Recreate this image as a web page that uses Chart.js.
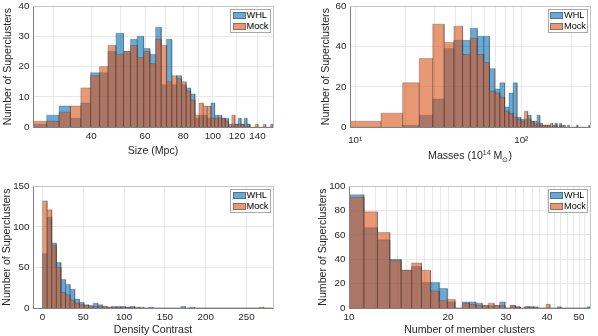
<!DOCTYPE html>
<html lang="en">
<head>
  <meta charset="UTF-8">
  <title>Supercluster histograms: WHL vs Mock</title>
  <script src="https://cdn.jsdelivr.net/npm/chart.js"></script>
  <style>
    body {
      margin: 0;
      background: #fff;
      font-family: "Liberation Sans", Arial, Helvetica, sans-serif;
    }
    #fig {
      position: relative;
      width: 598px;
      height: 336px;
      overflow: hidden;
    }
    #fig canvas {
      position: absolute;
    }
    .legend {
      position: absolute;
      width: 40.5px;
      height: 23.5px;
      box-sizing: border-box;
      background: #fff;
      border: 1px solid #a8a8a8;
      font-size: 9.2px;
      color: #000;
    }
    .legend .row {
      position: absolute;
      left: 0;
      height: 11px;
      line-height: 11px;
      white-space: nowrap;
    }
    .legend .sw {
      position: absolute;
      left: 1.5px;
      top: 2px;
      width: 13px;
      height: 7px;
      box-sizing: border-box;
      border: 1px solid rgba(50, 50, 50, 0.45);
    }
    .legend .lbl {
      position: absolute;
      left: 15.5px;
      top: 0;
    }
    .xlab {
      position: absolute;
      text-align: center;
      font-size: 10.6px;
      line-height: 13px;
      color: #262626;
      white-space: nowrap;
    }
    .xlab sup, .xlab sub {
      font-size: 7px;
      vertical-align: baseline;
      position: relative;
    }
    .xlab sup { top: -4px; }
    .xlab sub { top: 2.5px; }
  </style>
</head>
<body>
  <div id="fig">
    <canvas id="sizeChart" width="299" height="168" style="left:0;top:0"></canvas>
    <canvas id="massChart" width="299" height="168" style="left:299px;top:0"></canvas>
    <canvas id="densChart" width="299" height="168" style="left:0;top:168px"></canvas>
    <canvas id="membChart" width="299" height="168" style="left:299px;top:168px"></canvas>
    <div class="xlab" style="left:350px;top:149px;width:240px">Masses (10<sup>14</sup> M<sub>&#8857;</sub>)</div>
  </div>

  <script>
    const FONT = '"Liberation Sans", Arial, Helvetica, sans-serif';
    const TEXT = '#262626';
    const GRID = '#e8e8e8';
    const AXIS = '#808080';
    const BOX = '#c4c4c4';
    const WHL_COLOR = 'rgba(0, 114, 189, 0.6)';
    const MOCK_COLOR = 'rgba(217, 83, 25, 0.6)';
    const EDGE = 'rgba(50, 50, 50, 0.4)';
    const seriesNames = ['WHL', 'Mock'];

    // Size (Mpc): 47 bins of 2.8 Mpc starting at 25.8
    const sizeStart = 25.8, sizeWidth = 2.8;
    const sizeWHL = [1, 4, 7, 3, 8, 18, 18, 25, 31, 25, 29, 30, 26, 24, 33, 14, 29, 14, 17, 14,
      13, 11, 3, 4, 4, 3, 8, 4, 4, 3, 3, 1, 1, 1, 3, 1, 3, 1, 0, 0, 0, 0, 0, 0, 0, 0, 1];
    const sizeMock = [2, 2, 5, 7, 13, 17, 20, 27, 24, 25, 27, 23, 25, 21, 29, 27, 15, 17, 16, 15,
      12, 9, 4, 8, 7, 7, 3, 3, 3, 3, 2, 0, 4, 1, 1, 1, 0, 1, 0, 0, 1, 0, 0, 1, 0, 0, 0];
    const sizeGrid = [30, 40, 50, 60, 70, 80, 90, 100, 120, 140];
    const sizeLabels = [40, 60, 80, 100, 120, 140];

    // Masses (10^14 Msun): 50 bins of 5 starting at 9.3
    const massStart = 9.3, massWidth = 5;
    const massWHL = [0, 0, 1, 6, 14, 39, 43, 43, 49, 45, 45, 29, 19, 22, 10, 17, 22, 5, 4, 4,
      6, 3, 3, 6, 2, 1, 1, 1, 0, 1, 2, 0, 1, 1, 1, 0, 0, 0, 0, 0, 0, 1, 0, 0, 0, 0, 0, 0, 0, 1];
    const massMock = [3, 7, 22, 34, 51, 42, 50, 36, 44, 36, 32, 18, 17, 15, 8, 7, 5, 4, 3, 8,
      4, 3, 1, 2, 1, 1, 1, 1, 2, 0, 1, 0, 2, 0, 0, 0, 1, 0, 0, 0, 0, 0, 0, 0, 0, 0, 0, 0, 0, 0];
    const massGrid = [10, 20, 30, 40, 50, 60, 70, 80, 90, 100, 200];
    const massLabels = { 10: '10\u00b9', 100: '10\u00b2' };

    // Density contrast: 50 bins of 5.65 starting at 0
    const densStart = 0, densWidth = 5.65;
    const densWHL = [67, 112, 80, 56, 35, 29, 23, 11, 7, 4, 3, 6, 4, 2, 1, 2, 2, 2, 1, 2,
      1, 0, 0, 1, 0, 0, 0, 0, 0, 0, 2, 0, 1, 0, 0, 0, 0, 0, 0, 0, 0, 0, 0, 0, 0, 0, 0, 0, 0, 0];
    const densMock = [132, 121, 77, 50, 19, 16, 10, 6, 4, 3, 2, 2, 2, 2, 1, 1, 1, 1, 1, 1,
      0, 1, 0, 0, 0, 0, 0, 0, 0, 0, 0, 0, 0, 0, 0, 0, 0, 0, 0, 0, 0, 0, 0, 0, 0, 0, 0, 1, 0, 0];
    const densGrid = [0, 50, 100, 150, 200, 250];

    // Number of member clusters: 40 bins of 1.1 starting at 10
    const membStart = 10, membWidth = 1.1;
    const membWHL = [93, 66, 56, 40, 31, 34, 21, 21, 16, 5, 0, 5, 5, 4, 2, 2, 2, 5, 0, 2,
      1, 0, 1, 1, 1, 0, 0, 0, 0, 0, 1, 0, 0, 0, 0, 0, 0, 0, 0, 1];
    const membMock = [91, 79, 62, 39, 31, 37, 31, 14, 6, 7, 0, 4, 3, 2, 2, 4, 2, 2, 0, 2,
      1, 0, 1, 1, 0, 0, 0, 3, 0, 0, 0, 0, 0, 0, 0, 0, 0, 0, 0, 0];
    const membGrid = [10, 11, 12, 13, 14, 15, 16, 17, 18, 19, 20, 22, 24, 26, 28, 30, 32, 34, 36, 38,
      40, 42, 44, 46, 48, 50, 52];
    const membLabels = [10, 20, 30, 40, 50];

    // histogram outline: each bin goes up, across and back down to zero
    function outline(start, width, counts) {
      const pts = [];
      counts.forEach((c, i) => {
        const l = start + i * width, r = start + (i + 1) * width;
        pts.push({x: l, y: 0}, {x: l, y: c}, {x: r, y: c}, {x: r, y: 0});
      });
      return pts;
    }

    function series(label, pts, color, order) {
      return {
        label: label,
        data: pts,
        showLine: true,
        fill: 'origin',
        backgroundColor: color,
        borderColor: EDGE,
        borderWidth: 0.7,
        pointRadius: 0,
        tension: 0,
        order: order
      };
    }

    function makePanel(p) {
      const tickFont = {family: FONT, size: 9.8, lineHeight: 1.2};
      const titleFont = {family: FONT, size: 10.6, lineHeight: 1.2};
      return new Chart(document.getElementById(p.id), {
        type: 'scatter',
        data: {
          datasets: [
            series(seriesNames[0], outline(p.start, p.width, p.whl), WHL_COLOR, 2),
            series(seriesNames[1], outline(p.start, p.width, p.mock), MOCK_COLOR, 1)
          ]
        },
        options: {
          responsive: false,
          animation: false,
          devicePixelRatio: 1,
          layout: {padding: {top: p.padTop, right: p.padRight, left: 0, bottom: 0}},
          plugins: {legend: {display: false}, tooltip: {enabled: false}},
          scales: {
            x: {
              type: p.log ? 'logarithmic' : 'linear',
              min: p.xMin,
              max: p.xMax,
              bounds: 'data',
              afterBuildTicks: s => { s.ticks = p.grid.map(v => ({value: v})); },
              afterFit: s => { s.height = p.xAxisH; s.paddingLeft = 0; s.paddingRight = 0; },
              grid: {color: GRID, drawTicks: false},
              border: {color: AXIS, z: 1},
              ticks: {
                autoSkip: false, maxRotation: 0, padding: p.xTickPad,
                font: tickFont, color: TEXT,
                callback: v => p.label(v)
              },
              title: {
                display: !!p.xTitle, text: p.xTitle || '', font: titleFont, color: TEXT,
                padding: {top: 0, bottom: p.xTitlePad}
              }
            },
            y: {
              type: 'linear',
              min: 0,
              max: p.yMax,
              afterFit: s => { s.width = p.yAxisW; s.paddingTop = 0; s.paddingBottom = 0; },
              grid: {color: GRID, drawTicks: false},
              border: {color: AXIS, z: 1},
              ticks: {stepSize: p.yStep, padding: 3.5, font: tickFont, color: TEXT},
              title: {
                display: true, text: 'Number of Superclusters', font: titleFont, color: TEXT,
                padding: {top: p.yTitlePad, bottom: 0}
              }
            },
            xt: {
              type: 'linear', position: 'top',
              ticks: {display: false}, grid: {display: false, drawTicks: false},
              border: {color: BOX, z: 1},
              afterFit: s => { s.height = 0; s.paddingLeft = 0; s.paddingRight = 0; }
            },
            yr: {
              type: 'linear', position: 'right',
              ticks: {display: false}, grid: {display: false, drawTicks: false},
              border: {color: BOX, z: 1},
              afterFit: s => { s.width = 0; s.paddingTop = 0; s.paddingBottom = 0; }
            }
          }
        }
      });
    }

    function addLegend(chart, left, top) {
      const box = document.createElement('div');
      box.className = 'legend';
      box.style.left = left + 'px';
      box.style.top = top + 'px';
      chart.data.datasets.forEach((ds, i) => {
        const row = document.createElement('div');
        row.className = 'row';
        row.style.top = (0 + i * 11.4) + 'px';
        row.innerHTML = '<span class="sw" style="background:' + ds.backgroundColor + '"></span>' +
          '<span class="lbl">' + ds.label + '</span>';
        box.appendChild(row);
      });
      document.getElementById('fig').appendChild(box);
    }

    const sizeChart = makePanel({
      id: 'sizeChart', log: true, start: sizeStart, width: sizeWidth, whl: sizeWHL, mock: sizeMock,
      xMin: sizeStart, xMax: sizeStart + sizeWidth * sizeWHL.length, grid: sizeGrid,
      label: v => sizeLabels.includes(v) ? String(v) : '',
      yMax: 40, yStep: 10,
      padTop: 6, padRight: 26, yAxisW: 33, xAxisH: 40.7,
      xTickPad: 3.5, xTitle: 'Size (Mpc)', xTitlePad: 10.6, yTitlePad: 2.1
    });
    const massChart = makePanel({
      id: 'massChart', log: true, start: massStart, width: massWidth, whl: massWHL, mock: massMock,
      xMin: massStart, xMax: massStart + massWidth * massWHL.length, grid: massGrid,
      label: v => massLabels[v] || '',
      yMax: 60, yStep: 20,
      padTop: 6, padRight: 8, yAxisW: 51, xAxisH: 40.7,
      xTickPad: 7.5, xTitle: '', xTitlePad: 0, yTitlePad: 21
    });
    const densChart = makePanel({
      id: 'densChart', log: false, start: densStart, width: densWidth, whl: densWHL, mock: densMock,
      xMin: -11.6, xMax: densStart + densWidth * densWHL.length, grid: densGrid,
      label: v => String(v),
      yMax: 150, yStep: 50,
      padTop: 18.3, padRight: 26, yAxisW: 33, xAxisH: 28,
      xTickPad: 3.1, xTitle: 'Density Contrast', xTitlePad: 0, yTitlePad: 0.3
    });
    const membChart = makePanel({
      id: 'membChart', log: true, start: membStart, width: membWidth, whl: membWHL, mock: membMock,
      xMin: membStart, xMax: membStart + membWidth * membWHL.length, grid: membGrid,
      label: v => membLabels.includes(v) ? String(v) : '',
      yMax: 100, yStep: 20,
      padTop: 18.3, padRight: 8, yAxisW: 50, xAxisH: 28,
      xTickPad: 3.1, xTitle: 'Number of member clusters', xTitlePad: 0, yTitlePad: 17.6
    });

    addLegend(sizeChart, 230, 9);
    addLegend(massChart, 547.5, 9);
    addLegend(densChart, 230, 189);
    addLegend(membChart, 547.5, 189);
  </script>
</body>
</html>
